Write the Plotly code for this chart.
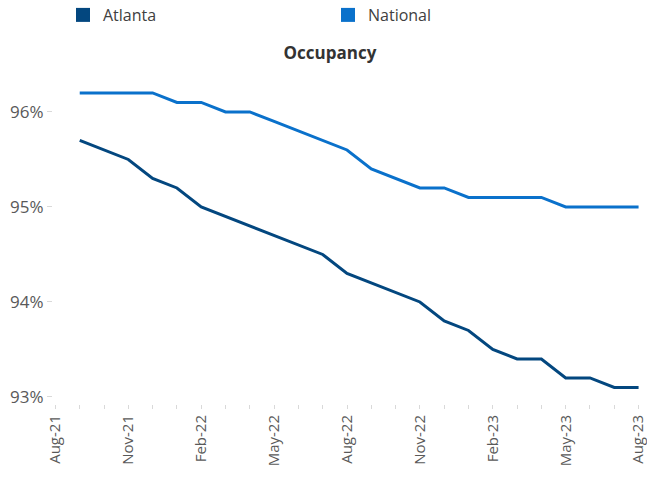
import plotly.graph_objects as go

months = ["Aug-21", "Sep-21", "Oct-21", "Nov-21", "Dec-21", "Jan-22", "Feb-22", "Mar-22",
          "Apr-22", "May-22", "Jun-22", "Jul-22", "Aug-22", "Sep-22", "Oct-22", "Nov-22",
          "Dec-22", "Jan-23", "Feb-23", "Mar-23", "Apr-23", "May-23", "Jun-23", "Jul-23", "Aug-23"]

atlanta = [None, 95.7, 95.6, 95.5, 95.3, 95.2, 95.0, 94.9, 94.8, 94.7, 94.6, 94.5, 94.3,
           94.2, 94.1, 94.0, 93.8, 93.7, 93.5, 93.4, 93.4, 93.2, 93.2, 93.1, 93.1]
national = [None, 96.2, 96.2, 96.2, 96.2, 96.1, 96.1, 96.0, 96.0, 95.9, 95.8, 95.7, 95.6,
            95.4, 95.3, 95.2, 95.2, 95.1, 95.1, 95.1, 95.1, 95.0, 95.0, 95.0, 95.0]

shown_labels = ["Aug-21", "Nov-21", "Feb-22", "May-22", "Aug-22", "Nov-22", "Feb-23", "May-23", "Aug-23"]
y_ticks = [93, 94, 95, 96]
y_tick_text = ["93%", "94%", "95%", "96%"]

c_atl = "#03477F"
c_nat = "#0A71CB"

fig = go.Figure()
fig.add_trace(go.Scatter(x=months, y=atlanta, mode="lines", line=dict(color=c_atl, width=3),
                         showlegend=False, name="Atlanta"))
fig.add_trace(go.Scatter(x=months, y=national, mode="lines", line=dict(color=c_nat, width=3),
                         showlegend=False, name="National"))
# legend entries with square keys
fig.add_trace(go.Scatter(x=[None], y=[None], mode="markers", name="Atlanta",
                         marker=dict(symbol="square", size=14, color=c_atl)))
fig.add_trace(go.Scatter(x=[None], y=[None], mode="markers", name="National",
                         marker=dict(symbol="square", size=14, color=c_nat)))

font_family = "Open Sans, Lato, sans-serif"

fig.update_layout(
    width=647, height=478,
    margin=dict(l=53, r=6, t=81, b=74, autoexpand=False),
    paper_bgcolor="white", plot_bgcolor="white",
    font=dict(family=font_family, color="#595959"),
    title=dict(text="<b>Occupancy</b>", x=0.51, xanchor="center", xref="container",
               y=1 - 53 / 478, yanchor="middle", yref="container", automargin=False,
               font=dict(size=17, color="#333333", family=font_family)),
    legend=dict(orientation="h", x=10 / 588, xanchor="left", y=1 - 15 / 478, yanchor="middle",
                yref="container", entrywidth=220, entrywidthmode="pixels",
                font=dict(size=16, color="#404040"), itemwidth=30),
    xaxis=dict(
        type="category",
        categoryorder="array", categoryarray=months,
        range=[-0.1, 24.1],
        tickmode="array", tickvals=months,
        ticktext=[m if m in shown_labels else "" for m in months],
        tickangle=-90, tickfont=dict(size=15, color="#595959"),
        ticks="outside", ticklen=4, tickcolor="#D9D9D9",
        showgrid=False, zeroline=False, showline=False, automargin=False,
    ),
    yaxis=dict(
        range=[92.926, 96.326],
        tickmode="array", tickvals=y_ticks, ticktext=y_tick_text,
        tickfont=dict(size=17, color="#595959"),
        ticks="outside", ticklen=5, tickcolor="#D9D9D9",
        showgrid=False, zeroline=False, showline=False, automargin=False,
    ),
)

fig.write_html("out.html", config={"displayModeBar": False},
               post_script="document.body.style.margin='0';")
